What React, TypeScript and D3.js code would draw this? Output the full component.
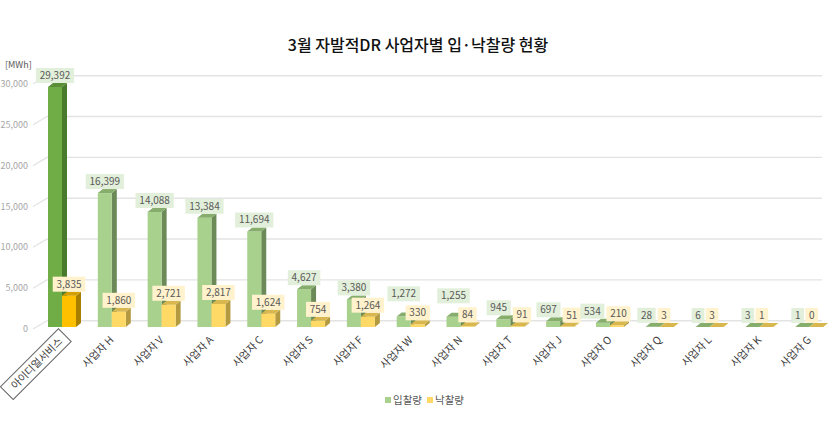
import React from 'react';
import * as d3 from 'd3';

// 사업자 목록과 입/낙찰량 (MWh)
const categories = ['아이디얼서비스', '사업자 H', '사업자 V', '사업자 A', '사업자 C', '사업자 S', '사업자 F', '사업자 W',
  '사업자 N', '사업자 T', '사업자 J', '사업자 O', '사업자 Q', '사업자 L', '사업자 K', '사업자 G'];
const bidValues = [29392, 16399, 14088, 13384, 11694, 4627, 3380, 1272, 1255, 945, 697, 534, 28, 6, 3, 1];
const awardValues = [3835, 1860, 2721, 2817, 1624, 754, 1264, 330, 84, 91, 51, 210, 3, 3, 1, 0];
const yTicks = [0, 5000, 10000, 15000, 20000, 25000, 30000];
const seriesNames = ['입찰량', '낙찰량'];

const W = 839, H = 423;
const FONT = "'Noto Sans CJK KR', 'Noto Sans', sans-serif";

// colours: [front, side, top]
const greenHi = ['#70ad47', '#4a7a2c', '#5a8f37'];
const green = ['#a9d18e', '#6b8a58', '#86ad6c'];
const yellowHi = ['#ffc000', '#a88000', '#d3a000'];
const yellow = ['#ffd966', '#b39a40', '#d8b84e'];

const fmt = d3.format(',');

function textW(s: string) {
  // rough width of digit labels at 10px
  let w = 0;
  for (const ch of s) w += ch === ',' ? 2.7 : 5.7;
  return w;
}

const App = () => {
  const x = d3.scaleBand<string>().domain(categories).range([40, 837]).padding(0);
  const y = d3.scaleLinear().domain([0, 30000]).range([327, 82]);
  const base = y(0);
  const barW = 14, dx = 5, dy = -4;
  const gdy = -6.3, gx0 = 47, gx1 = 822;

  const bar = (bx: number, v: number, col: string[], key: string) => {
    const ty = y(v);
    return (
      <g key={key}>
        <polygon points={`${bx + barW},${ty} ${bx + barW + dx},${ty + dy} ${bx + barW + dx},${base + dy} ${bx + barW},${base}`} fill={col[1]} />
        <rect x={bx} y={ty} width={barW} height={base - ty} fill={col[0]} />
        <polygon points={`${bx},${ty} ${bx + dx},${ty + dy} ${bx + barW + dx},${ty + dy} ${bx + barW},${ty}`} fill={col[2]} />
      </g>
    );
  };

  // label boxes: split sideways on small overlaps, push the green one up on big ones
  const labels = categories.map((c, i) => {
    const gx = (x(c) as number) + 8;
    const yx = gx + barW;
    const gs = fmt(bidValues[i]), ys = fmt(awardValues[i]);
    const gw = textW(gs) + 7, yw = textW(ys) + 7;
    const bh = 15;
    let gBottom = y(bidValues[i]) - 4;
    const yBottom = y(awardValues[i]) - 4;
    let gL = gx + barW / 2 - gw / 2;
    let yL = yx + barW / 2 - yw / 2;
    if (base - y(bidValues[i]) < 5 && base - y(awardValues[i]) < 5) { gL -= 4.5; yL -= 4.5; }
    const hOverlap = Math.min(gL + gw, yL + yw) - Math.max(gL, yL);
    const vOverlap = gBottom > yBottom - bh && gBottom - bh < yBottom;
    if (hOverlap > 0 && vOverlap) {
      if (hOverlap > 10.8) gBottom = yBottom - bh - 4;
      else { gL -= hOverlap / 2 + 1; yL += hOverlap / 2 + 1; }
    }
    return { gs, ys, gw, yw, gL, yL, gBottom, yBottom, bh };
  });

  return (
    <svg width={W} height={H} style={{ position: 'absolute', left: 0, top: 0, background: '#fff' }} fontFamily={FONT}>
      <text x={418} y={51} textAnchor="middle" fontSize={16} fontWeight={500} fill="#111">
        3월 자발적DR 사업자별 입·낙찰량 현황
      </text>

      {/* grid + y axis */}
      <text x={5} y={68} fontSize={9} fill="#595959">[MWh]</text>
      {yTicks.map(t => (
        <g key={t}>
          <line x1={gx0} x2={gx1} y1={y(t) + gdy} y2={y(t) + gdy} stroke="#e3e3e3" strokeWidth={1.4} />
          <line x1={33} x2={gx0} y1={y(t) + 2} y2={y(t) + gdy} stroke="#e3e3e3" strokeWidth={1.2} />
          <text x={28} y={y(t) + 5} textAnchor="end" fontSize={9} fill="#a6a6a6">{fmt(t)}</text>
        </g>
      ))}

      {/* bars */}
      {categories.map((c, i) => {
        const gx = (x(c) as number) + 8;
        return (
          <g key={c}>
            {bar(gx, bidValues[i], i === 0 ? greenHi : green, 'b')}
            {bar(gx + barW, awardValues[i], i === 0 ? yellowHi : yellow, 'a')}
          </g>
        );
      })}

      {/* data labels */}
      {labels.map((l, i) => (
        <g key={'l' + i} fontSize={10} fill="#595959">
          <rect x={l.gL} y={l.gBottom - l.bh} width={l.gw} height={l.bh} fill="#e2efda" />
          <text x={l.gL + l.gw / 2} y={l.gBottom - 4} textAnchor="middle">{l.gs}</text>
          <rect x={l.yL} y={l.yBottom - l.bh} width={l.yw} height={l.bh} fill="#fff2cc" />
          <text x={l.yL + l.yw / 2} y={l.yBottom - 4} textAnchor="middle">{l.ys}</text>
        </g>
      ))}

      {/* x labels */}
      {categories.map((c, i) => {
        const ax = (x(c) as number) + 22;
        const ay = 338;
        const tw = c.length * 10;
        return (
          <g key={'x' + c} transform={`translate(${ax},${ay}) rotate(-45)`}>
            {i === 0 && <rect x={-tw - 8} y={-9} width={tw + 12} height={18} fill="#fff" stroke="#666" strokeWidth={1} />}
            <text x={i === 0 ? -2 : 0} y={0} dy="0.35em" textAnchor="end" fontSize={10.5} fill="#404040">{c}</text>
          </g>
        );
      })}

      {/* legend */}
      <g fontSize={10.5} fill="#595959">
        <rect x={385} y={397} width={6} height={6} fill={green[0]} />
        <text x={393} y={404}>{seriesNames[0]}</text>
        <rect x={427} y={397} width={6} height={6} fill={yellow[0]} />
        <text x={435} y={404}>{seriesNames[1]}</text>
      </g>
    </svg>
  );
};

export default App;
